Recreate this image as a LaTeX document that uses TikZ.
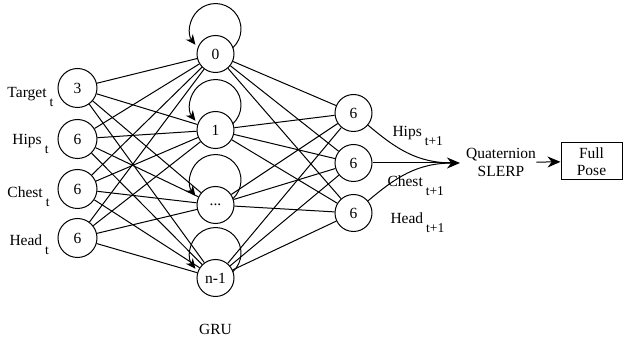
\documentclass[tikz,border=0pt]{standalone}
\usepackage{fontspec}
\setmainfont{Liberation Serif}
\usetikzlibrary{arrows.meta}

% lowered subscript with a little space in front
\newcommand{\lowsub}[1]{\hspace{3pt}\raisebox{-9pt}{\fontsize{13.5}{14}\selectfont #1}}

\begin{document}
\begin{tikzpicture}[x=1pt,y=1pt, line width=1pt,
  neuron/.style={circle, draw, minimum size=37pt, inner sep=0pt, font=\fontsize{15.5}{18}\selectfont},
  inneuron/.style={neuron, minimum size=39pt},
  lbl/.style={font=\fontsize{15.5}{18}\selectfont, inner sep=0pt},
  recur/.style={-{Stealth[length=10pt,width=9pt]}},
  flow/.style={-{Stealth[length=13pt,width=11pt]}},
  posebox/.style={draw, minimum width=61pt, minimum height=37pt, inner sep=0pt, align=center,
    font=\fontsize{15.5}{17}\selectfont},
]
\useasboundingbox (0,0) rectangle (625,-339);

% input layer
\node[inneuron] (i1) at (77.5,-88)  {3};
\node[inneuron] (i2) at (77.5,-139) {6};
\node[inneuron] (i3) at (77.5,-189) {6};
\node[inneuron] (i4) at (77.5,-238) {6};

\node[lbl, anchor=base west] (li1) at (7,-98)  {Target\lowsub{t}};
\node[lbl, anchor=base west] (li2) at (12,-145) {Hips\lowsub{t}};
\node[lbl, anchor=base west] (li3) at (7,-198) {Chest\lowsub{t}};
\node[lbl, anchor=base west] (li4) at (9,-246) {Head\lowsub{t}};

% recurrent hidden layer
\node[neuron] (h1) at (215.5,-54)  {0};
\node[neuron] (h2) at (215.5,-130) {1};
\node[neuron] (h3) at (215.5,-205) {...};
\node[neuron] (h4) at (215.5,-278) {n-1};
\node[lbl] (gru) at (215.5,-329) {GRU};

% output layer
\node[neuron] (o1) at (353.5,-113) {6};
\node[neuron] (o2) at (353.5,-163) {6};
\node[neuron] (o3) at (353.5,-213) {6};

\node[lbl, anchor=base west] (lo1) at (392,-137) {Hips\lowsub{t+1}};
\node[lbl, anchor=base west] (lo2) at (387,-187) {Chest\lowsub{t+1}};
\node[lbl, anchor=base west] (lo3) at (390,-224) {Head\lowsub{t+1}};

% dense connections
\foreach \i in {1,...,4}
  \foreach \h in {1,...,4}
    \draw (i\i) -- (h\h);
\foreach \h in {1,...,4}
  \foreach \o in {1,...,3}
    \draw (h\h) -- (o\o);

% self loops of the hidden units
\foreach \h in {1,...,4}
  \draw[recur] ([shift={(17.4,6.3)}]h\h.center) arc[start angle=-47, end angle=218, radius=25.5];

% merging the outputs
\coordinate (m) at (460,-163);
\coordinate (mj) at (453,-163);
\node[lbl, align=center] (q) at (501,-162.5) {Quaternion\\SLERP};
\node[posebox] (pose) at (591.5,-161.5) {Full\\Pose};

\draw (o1) to[out=-40, in=180] (mj);
\draw (o3) to[out=40, in=180] (mj);
\draw[flow] (o2) -- (m);
\draw[flow] (q) -- (pose);
\end{tikzpicture}
\end{document}
